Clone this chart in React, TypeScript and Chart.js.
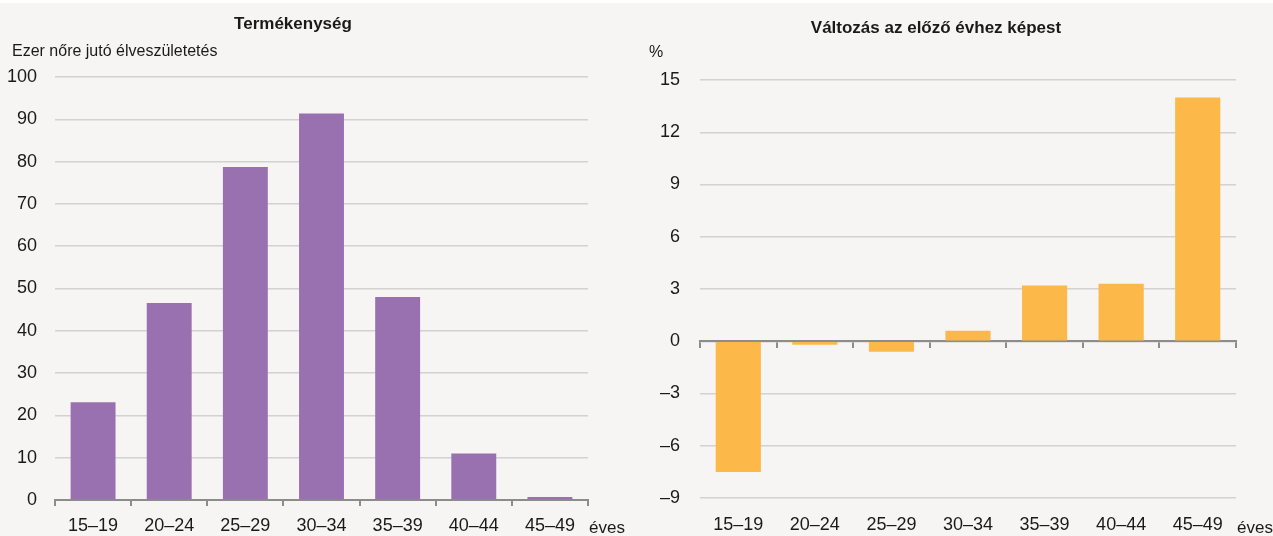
import React, { useEffect, useRef } from 'react';
import { Chart, registerables } from 'chart.js';

Chart.register(...registerables);

// ---- data ----
const categories = ['15–19', '20–24', '25–29', '30–34', '35–39', '40–44', '45–49'];
const fertilityValues = [23.1, 46.6, 78.7, 91.4, 48.0, 11.0, 0.7];
const changeValues = [-7.5, -0.2, -0.6, 0.6, 3.2, 3.3, 14.0];
const leftTicks = [0, 10, 20, 30, 40, 50, 60, 70, 80, 90, 100];
const rightTicks = [-9, -6, -3, 0, 3, 6, 9, 12, 15];

const leftTitle = 'Termékenység';
const leftUnit = 'Ezer nőre jutó élveszületetés';
const rightTitle = 'Változás az előző évhez képest';
const rightUnit = '%';
const xUnit = 'éves';

const FONT = '"Liberation Sans", Arial, sans-serif';
const BG = '#f6f5f3';
const PURPLE = '#9a71b0';
const ORANGE = '#fdb84a';
const GRID = '#d2d2d2';
const AXIS = '#8c8c8c';
const TEXT = '#1a1a1a';
const TICK_SIZE = 18;

const dashify = (v: number) => (v < 0 ? '–' + Math.abs(v) : String(v));

type TextOpts = {
  title: string;
  titleX: number;
  titleY: number;
  unit: string;
  unitX: number;
  unitY: number;
  xUnitY: number;
};

const textPlugin = {
  id: 'texts',
  afterDraw(chart: any, _args: any, opts: TextOpts) {
    const { ctx, chartArea } = chart;
    ctx.save();
    ctx.fillStyle = TEXT;
    ctx.textBaseline = 'alphabetic';
    ctx.font = `bold 17px ${FONT}`;
    ctx.textAlign = 'center';
    ctx.fillText(opts.title, opts.titleX, opts.titleY);
    ctx.font = `16px ${FONT}`;
    ctx.textAlign = 'left';
    ctx.fillText(opts.unit, opts.unitX, opts.unitY);
    ctx.font = `17px ${FONT}`;
    ctx.fillText(xUnit, chartArea.right + 1, chartArea.bottom + opts.xUnitY);
    ctx.restore();
  },
};

function LeftChart() {
  const ref = useRef<HTMLCanvasElement>(null);
  useEffect(() => {
    const chart = new Chart(ref.current!, {
      type: 'bar',
      data: {
        labels: categories,
        datasets: [
          {
            data: fertilityValues,
            backgroundColor: PURPLE,
            barPercentage: 0.59,
            categoryPercentage: 1,
          },
        ],
      },
      plugins: [textPlugin],
      options: {
        animation: false,
        responsive: false,
        events: [],
        layout: { padding: { left: 0, right: 48, top: 77, bottom: 0 } },
        plugins: {
          legend: { display: false },
          tooltip: { enabled: false },
          texts: {
            title: leftTitle,
            titleX: 293,
            titleY: 29,
            unit: leftUnit,
            unitX: 12,
            unitY: 56,
            xUnitY: 33,
          },
        } as any,
        scales: {
          x: {
            position: 'bottom',
            afterFit: (s: any) => {
              s.height = 36;
            },
            grid: {
              drawOnChartArea: false,
              drawTicks: true,
              tickLength: 6,
              color: AXIS,
              lineWidth: 2,
            },
            border: { display: true, color: AXIS, width: 2 },
            ticks: { color: TEXT, font: { family: FONT, size: TICK_SIZE }, padding: 9 },
          },
          y: {
            min: 0,
            max: 100,
            afterFit: (s: any) => {
              s.width = 55;
            },
            afterBuildTicks: (s: any) => {
              s.ticks = leftTicks.map((v) => ({ value: v }));
            },
            grid: { color: GRID, lineWidth: 1.5, drawTicks: false },
            border: { display: false },
            ticks: {
              color: TEXT,
              font: { family: FONT, size: TICK_SIZE },
              padding: 18,
              callback: (v: any) => dashify(Number(v)),
            },
          },
        },
      } as any,
    });
    return () => chart.destroy();
  }, []);
  return (
    <canvas
      ref={ref}
      width={636}
      height={536}
      style={{ position: 'absolute', left: 0, top: 0, width: 636, height: 536 }}
    />
  );
}

function RightChart() {
  const ref = useRef<HTMLCanvasElement>(null);
  useEffect(() => {
    const chart = new Chart(ref.current!, {
      type: 'bar',
      data: {
        labels: categories,
        datasets: [
          {
            data: changeValues,
            backgroundColor: ORANGE,
            barPercentage: 0.59,
            categoryPercentage: 1,
            xAxisID: 'x',
          },
        ],
      },
      plugins: [textPlugin],
      options: {
        animation: false,
        responsive: false,
        events: [],
        layout: { padding: { left: 0, right: 37, top: 80, bottom: 0 } },
        plugins: {
          legend: { display: false },
          tooltip: { enabled: false },
          texts: {
            title: rightTitle,
            titleX: 300,
            titleY: 33,
            unit: rightUnit,
            unitX: 13,
            unitY: 57,
            xUnitY: 35,
          },
        } as any,
        scales: {
          x: {
            position: { y: 0 },
            z: 1,
            afterFit: (s: any) => {
              s.height = 0;
            },
            grid: {
              drawOnChartArea: false,
              drawTicks: true,
              tickLength: 6,
              color: AXIS,
              lineWidth: 2,
            },
            border: { display: true, color: AXIS, width: 2 },
            ticks: { display: false },
          },
          x2: {
            type: 'category',
            position: 'bottom',
            afterFit: (s: any) => {
              s.height = 38;
            },
            grid: { display: false },
            border: { display: false },
            ticks: { color: TEXT, font: { family: FONT, size: TICK_SIZE }, padding: 8 },
          },
          y: {
            min: -9,
            max: 15,
            afterFit: (s: any) => {
              s.width = 64;
            },
            afterBuildTicks: (s: any) => {
              s.ticks = rightTicks.map((v) => ({ value: v }));
            },
            grid: { color: GRID, lineWidth: 1.5, drawTicks: false },
            border: { display: false },
            ticks: {
              color: TEXT,
              font: { family: FONT, size: TICK_SIZE },
              padding: 20,
              callback: (v: any) => dashify(Number(v)),
            },
          },
        },
      } as any,
    });
    return () => chart.destroy();
  }, []);
  return (
    <canvas
      ref={ref}
      width={637}
      height={536}
      style={{ position: 'absolute', left: 636, top: 0, width: 637, height: 536 }}
    />
  );
}

export default function App() {
  useEffect(() => {
    document.body.style.margin = '0';
  }, []);
  return (
    <div
      style={{
        position: 'fixed',
        left: 0,
        top: 0,
        width: 1273,
        height: 536,
        background: BG,
        overflow: 'hidden',
      }}
    >
      <div style={{ position: 'absolute', left: 0, top: 0, width: 1273, height: 3, background: '#ffffff' }} />
      <LeftChart />
      <RightChart />
    </div>
  );
}
